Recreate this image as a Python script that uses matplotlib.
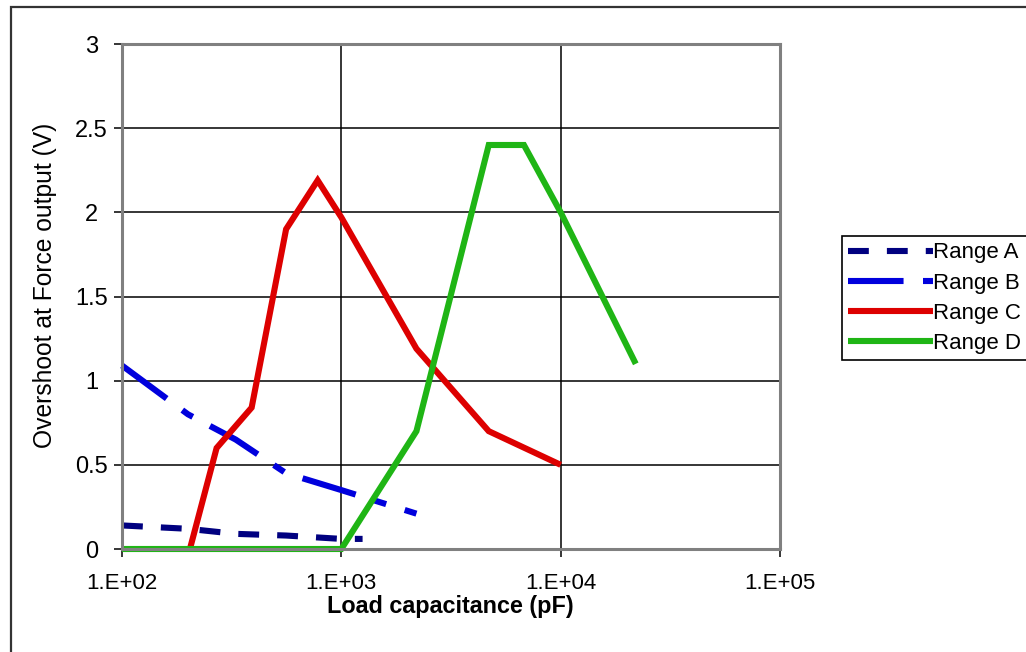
import matplotlib
matplotlib.use('Agg')
import matplotlib.pyplot as plt
from matplotlib.patches import Rectangle
from matplotlib.ticker import FixedLocator, FixedFormatter, NullLocator

plt.rcParams['font.family'] = ['Liberation Sans', 'DejaVu Sans']
plt.rcParams['lines.scale_dashes'] = False

# Load capacitance (pF) and overshoot (V) per range
cap_a = [100, 200, 330, 560, 1000, 1250]
ovs_a = [0.14, 0.12, 0.09, 0.08, 0.06, 0.06]

cap_b = [100, 200, 330, 560, 1000, 2200]
ovs_b = [1.09, 0.80, 0.65, 0.45, 0.35, 0.21]

cap_c = [204, 270, 390, 560, 780, 1000, 2200, 4700, 10000]
ovs_c = [0.0, 0.60, 0.84, 1.90, 2.19, 1.97, 1.19, 0.70, 0.50]

cap_d = [100, 1000, 2200, 4700, 6800, 10000, 22000]
ovs_d = [0.0, 0.0, 0.70, 2.40, 2.40, 2.00, 1.10]

labels = ['Range A', 'Range B', 'Range C', 'Range D']
xticks = [1e2, 1e3, 1e4, 1e5]
xtick_labels = ['1.E+02', '1.E+03', '1.E+04', '1.E+05']
yticks = [0, 0.5, 1, 1.5, 2, 2.5, 3]
ytick_labels = ['0', '0.5', '1', '1.5', '2', '2.5', '3']

W, H = 1026, 652
fig = plt.figure(figsize=(W / 100, H / 100), dpi=100)
fig.patch.set_facecolor('white')

# outer chart frame (only top and left visible)
fig.add_artist(Rectangle((10.5 / W, -0.05), 1.2, 1 - 7 / H + 0.05,
                         transform=fig.transFigure, fill=False,
                         edgecolor='#333333', linewidth=1.6))

ax = fig.add_axes([122 / W, 1 - 549 / H, (780 - 122) / W, (549 - 44) / H])
ax.set_xscale('log')
ax.set_xlim(1e2, 1e5)
ax.set_ylim(0, 3)

lw = 4.4
common = dict(linewidth=lw, solid_capstyle='butt', dash_capstyle='butt',
              solid_joinstyle='miter', dash_joinstyle='miter', clip_on=False)
la, = ax.plot(cap_a, ovs_a, color='#000080', dashes=(15, 13), **common)
lb, = ax.plot(cap_b, ovs_b, color='#0000DD', dashes=(40, 14, 9, 14), **common)
lc, = ax.plot(cap_c, ovs_c, color='#DD0000', **common)
ld, = ax.plot(cap_d, ovs_d, color='#1FB515', **common)

ax.xaxis.set_major_locator(FixedLocator(xticks))
ax.xaxis.set_major_formatter(FixedFormatter(xtick_labels))
ax.xaxis.set_minor_locator(NullLocator())
ax.set_yticks(yticks)
ax.set_yticklabels(ytick_labels)

ax.grid(True, which='major', color='black', linewidth=1.1)
ax.set_axisbelow(True)
for s in ax.spines.values():
    s.set_color('#808080')
    s.set_linewidth(2.2)
ax.tick_params(axis='both', direction='out', length=6, width=1.1,
               color='black', labelcolor='black')
ax.tick_params(axis='x', pad=11, labelsize=16)
ax.tick_params(axis='y', pad=16, labelsize=17)
for lbl in ax.get_yticklabels():
    lbl.set_ha('center')

ax.set_xlabel('Load capacitance (pF)', fontsize=16.8, fontweight='bold')
ax.xaxis.set_label_coords((450 - 122) / 658, -(607 - 549) / 505)
ax.xaxis.label.set_va('center')
ax.set_ylabel('Overshoot at Force output (V)', fontsize=17.7)
ax.yaxis.set_label_coords((45 - 122) / 658, (549 - 285) / 505)
ax.yaxis.label.set_va('center')

leg = fig.legend([la, lb, lc, ld], labels, loc='upper left',
                 bbox_to_anchor=(841.7 / W, 1 - 236 / H),
                 bbox_transform=fig.transFigure, borderaxespad=0,
                 fontsize=16, handlelength=3.8, handletextpad=0,
                 borderpad=0.29, labelspacing=0.41, fancybox=False,
                 framealpha=1, edgecolor='black')
leg.get_frame().set_linewidth(1.2)

fig.savefig('out.png', dpi=100)
